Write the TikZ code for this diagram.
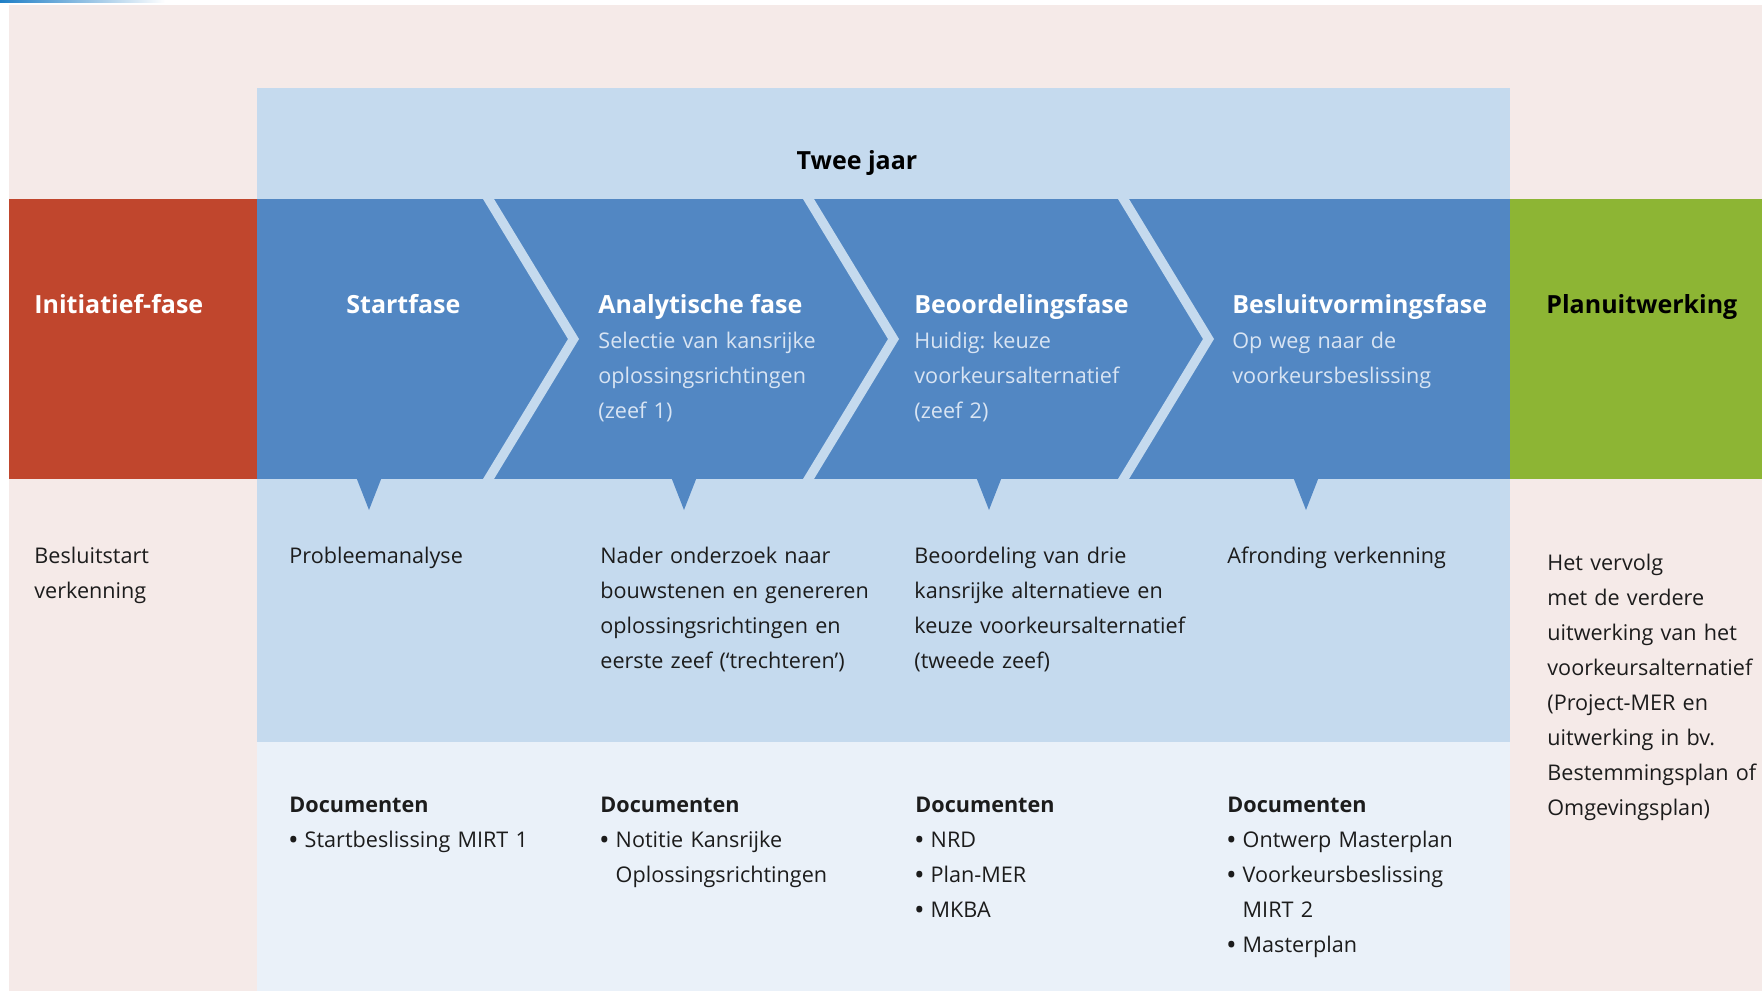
\documentclass[tikz,border=0pt]{standalone}
\usepackage{fontspec}
\setmainfont{Open Sans}
\frenchspacing
\definecolor{achtergrond}{HTML}{F5EAE8}
\definecolor{lichtblauw}{HTML}{C5DAEE}
\definecolor{bandblauw}{HTML}{5287C3}
\definecolor{docblauw}{HTML}{EAF1F9}
\definecolor{rood}{HTML}{C0462D}
\definecolor{groen}{HTML}{8DB534}
\definecolor{subkleur}{HTML}{D8E4F3}
\definecolor{tekstkleur}{HTML}{1C1C1C}
\definecolor{topblauw}{HTML}{1F7FC6}
\newcommand{\opsom}{\textbf{\textbullet}\ }
\newcommand{\inspring}{\phantom{\textbf{\textbullet}\ }}
\tikzset{
  kop/.style={anchor=base west, inner sep=0pt, font=\fontsize{12.5}{17.5}\selectfont\bfseries},
  tekst/.style={anchor=base west, inner sep=0pt, align=left, text width=170pt,
    font=\fontsize{10.8}{17.5}\selectfont, text=tekstkleur},
  sub/.style={tekst, text=subkleur},
}
\begin{document}
\begin{tikzpicture}[x=0.5pt,y=-0.5pt]
\useasboundingbox (0,0) rectangle (1762,991);
\fill[white] (0,0) rectangle (1762,991);
\shade[left color=topblauw, right color=white] (0,0) rectangle (165,2.5);
\fill[achtergrond] (9,5) rectangle (1762,991);
\fill[lichtblauw] (257,88) rectangle (1510,199);
\fill[rood] (9,199) rectangle (257,479);
\fill[bandblauw] (257,199) rectangle (1510,479);
\fill[groen] (1510,199) rectangle (1762,479);
\fill[lichtblauw] (257,479) rectangle (1510,742);
\fill[docblauw] (257,742) rectangle (1510,991);
\foreach \a in {483,803,1118}
  \fill[lichtblauw] (\a,199) -- (\a+11,199) -- (\a+96,339) -- (\a+11,479) -- (\a,479) -- (\a+85,339) -- cycle;
\foreach \x in {369,684,989,1306}
  \fill[bandblauw] (\x-12.5,478) -- (\x+12.5,478) -- (\x,510) -- cycle;

\node[kop, anchor=base] (duur) at (857,169) {Twee jaar};
\node[kop, text=white] (initiatief) at (34,313) {Initiatief-fase};
\node[kop, text=white] (start) at (346,313) {Startfase};
\node[kop, text=white] (analyse) at (598,313) {Analytische fase};
\node[sub] (analyse-sub) at (598,348) {Selectie van kansrijke\\oplossingsrichtingen\\(zeef 1)};
\node[kop, text=white] (beoordeling) at (914,313) {Beoordelingsfase};
\node[sub] (beoordeling-sub) at (914,348) {Huidig: keuze\\voorkeursalternatief\\(zeef 2)};
\node[kop, text=white] (besluit) at (1232,313) {Besluitvormingsfase};
\node[sub] (besluit-sub) at (1232,348) {Op weg naar de\\voorkeursbeslissing};
\node[kop] (plan) at (1546,313) {Planuitwerking};

\node[tekst] (initiatief-tekst) at (34,563) {Besluitstart\\verkenning};
\node[tekst] (start-tekst) at (289,563) {Probleemanalyse};
\node[tekst] (analyse-tekst) at (600,563) {Nader onderzoek naar\\bouwstenen en genereren\\oplossingsrichtingen en\\eerste zeef (‘trechteren’)};
\node[tekst] (beoordeling-tekst) at (914,563) {Beoordeling van drie\\kansrijke alternatieve en\\keuze voorkeursalternatief\\(tweede zeef)};
\node[tekst] (besluit-tekst) at (1227,563) {Afronding verkenning};
\node[tekst] (plan-tekst) at (1547,570) {Het vervolg\\met de verdere\\uitwerking van het\\voorkeursalternatief\\(Project-MER en\\uitwerking in bv.\\Bestemmingsplan of\\Omgevingsplan)};

\node[tekst] (start-doc) at (289,812) {\textbf{Documenten}\\\opsom Startbeslissing MIRT 1};
\node[tekst] (analyse-doc) at (600,812) {\textbf{Documenten}\\\opsom Notitie Kansrijke\\\inspring Oplossingsrichtingen};
\node[tekst] (beoordeling-doc) at (915,812) {\textbf{Documenten}\\\opsom NRD\\\opsom Plan-MER\\\opsom MKBA};
\node[tekst] (besluit-doc) at (1227,812) {\textbf{Documenten}\\\opsom Ontwerp Masterplan\\\opsom Voorkeursbeslissing\\\inspring MIRT 2\\\opsom Masterplan};
\end{tikzpicture}
\end{document}
